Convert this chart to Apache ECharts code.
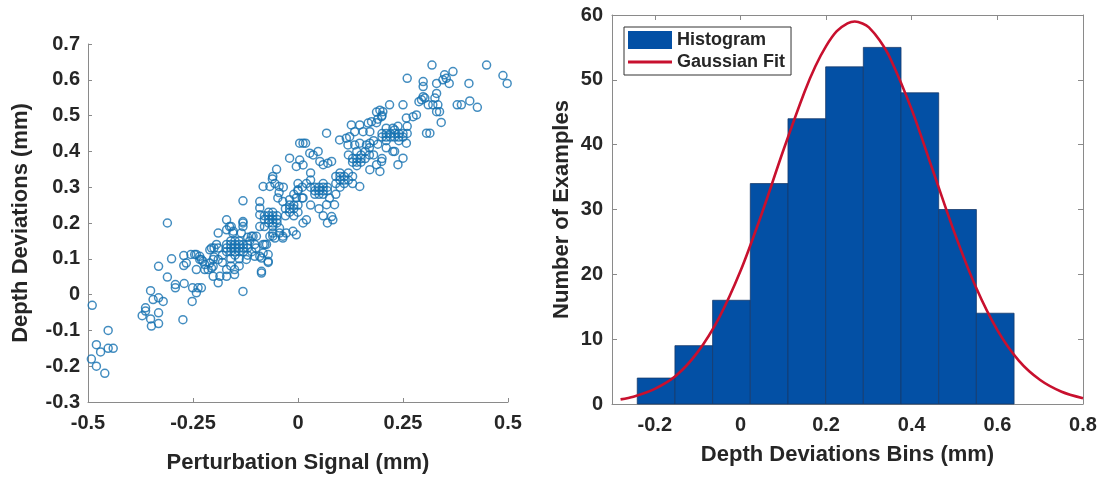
<!DOCTYPE html>
<html>
<head>
<meta charset="utf-8">
<script src="https://cdn.jsdelivr.net/npm/echarts@6/dist/echarts.min.js"></script>
<style>
html,body{margin:0;padding:0;background:#fff;}
#chart{width:1101px;height:479px;}
</style>
</head>
<body>
<div id="chart"></div>
<script>
// ---------- data ----------
const scatterPoints = [
[-0.49,-0.03],[-0.452,-0.1],[-0.48,-0.14],[-0.47,-0.16],[-0.452,-0.15],[-0.44,-0.15],[-0.492,-0.18],[-0.48,-0.2],[-0.46,-0.22],
[-0.371,-0.059],[-0.363,-0.046],[-0.363,-0.037],[-0.351,0.011],[-0.351,-0.068],[-0.349,-0.088],[-0.345,-0.014],[-0.332,-0.009],[-0.321,-0.019],[-0.332,-0.051],[-0.332,-0.081],[-0.311,0.2],[-0.274,-0.07],
[-0.332,0.079],[-0.311,0.049],[-0.301,0.1],[-0.292,0.028],[-0.292,0.019],[-0.271,0.031],[-0.272,0.081],[-0.272,0.109],[-0.255,0.112],[-0.246,0.112],[-0.266,0.088],[-0.251,0.019],[-0.242,0.005],[-0.238,0.019],[-0.23,0.019],[-0.252,-0.019],[-0.242,0.07],[-0.234,0.098],[-0.226,0.093],[-0.222,0.07],[-0.21,0.088],[-0.206,0.13],[-0.21,0.125],[-0.234,0.107],[-0.242,0.112],[-0.202,0.051],[-0.202,0.098],[-0.202,0.079],[-0.214,0.07],[-0.206,0.074],[-0.222,0.084],[-0.23,0.098],
[-0.17,0.12],[-0.17,0.13],[-0.17,0.14],[-0.16,0.12],[-0.16,0.13],[-0.16,0.14],[-0.16,0.15],[-0.15,0.12],[-0.15,0.13],[-0.15,0.14],[-0.15,0.15],[-0.14,0.12],[-0.14,0.13],[-0.14,0.14],[-0.14,0.15],[-0.13,0.13],[-0.13,0.14],[-0.12,0.13],[-0.12,0.14],[-0.13,0.12],
[-0.19,0.13],[-0.2,0.13],[-0.194,0.14],[-0.19,0.172],[-0.17,0.181],[-0.163,0.19],[-0.154,0.177],[-0.131,0.19],[-0.131,0.2],[-0.17,0.07],[-0.17,0.051],[-0.151,0.056],[-0.151,0.07],[-0.131,0.009],[-0.123,0.098],[-0.107,0.163],[-0.103,0.107],[-0.091,0.107],[-0.079,0.14],[-0.071,0.09],[-0.087,0.06],[-0.06,0.163],[-0.19,0.098],[-0.19,0.033],[-0.186,0.051],[-0.17,0.209],[-0.159,0.19],[-0.131,0.204],[-0.155,0.172],[-0.135,0.172],[-0.111,0.163],[-0.099,0.163],[-0.103,0.14],[-0.083,0.14],[-0.071,0.112],[-0.087,0.102],[-0.131,0.262],[-0.12,0.11],[-0.11,0.12],[-0.14,0.1],[-0.16,0.1],[-0.15,0.11],[-0.18,0.11],[-0.18,0.09],[-0.16,0.08],[-0.14,0.08],[-0.12,0.16],[-0.1,0.13],[-0.115,0.15],[-0.2,0.105],[-0.075,0.14],[-0.083,0.116],[-0.071,0.093],[-0.087,0.065],
[-0.091,0.26],[-0.091,0.242],[-0.091,0.223],[-0.091,0.19],[-0.083,0.302],[-0.067,0.302],[-0.045,0.302],[-0.061,0.323],[-0.051,0.35],[-0.02,0.381],[0.004,0.423],[0.012,0.423],[0.018,0.423],[-0.048,0.27],[-0.036,0.26],[-0.02,0.265],[-0.004,0.27],
[-0.08,0.19],[-0.08,0.21],[-0.08,0.22],[-0.07,0.2],[-0.07,0.21],[-0.07,0.22],[-0.07,0.23],[-0.06,0.2],[-0.06,0.21],[-0.06,0.22],[-0.06,0.23],[-0.05,0.21],[-0.05,0.22],[-0.05,0.2],
[-0.03,0.22],[-0.03,0.24],[-0.02,0.23],[-0.02,0.24],[-0.02,0.25],[-0.01,0.22],[-0.01,0.24],[0,0.23],[0,0.25],[-0.01,0.25],
[-0.06,0.172],[-0.044,0.172],[-0.028,0.172],[-0.012,0.177],[-0.004,0.167],[-0.055,0.158],[-0.036,0.158],[0.012,0.2],[0.02,0.209],[0.083,0.209],[-0.036,0.163],[-0.067,0.163],[-0.06,0.19],[-0.044,0.186],
[0.004,0.376],[0.012,0.362],[-0.004,0.358],[0.028,0.395],[0.036,0.39],[0.048,0.4],[0.052,0.372],[0.06,0.363],[0.071,0.367],[0.08,0.372],[0.068,0.451],
[0.02,0.31],[0.03,0.3],[0.03,0.32],[0.04,0.28],[0.04,0.29],[0.04,0.3],[0.05,0.28],[0.05,0.29],[0.05,0.3],[0.06,0.28],[0.06,0.29],[0.06,0.3],[0.06,0.31],[0.07,0.29],[0.07,0.3],[0.075,0.27],[0,0.31],[0.01,0.3],[0,0.29],[-0.01,0.28],[0.01,0.27],
[0.087,0.251],[0.08,0.218],[0.068,0.251],[0.05,0.24],[0.03,0.25],[0.06,0.22],[0.07,0.2],[0.012,0.27],[0,0.293],
[-0.06,0.33],[-0.055,0.31],[-0.035,0.3],[-0.045,0.285],[0.03,0.34],[0.09,0.28],[0.1,0.3],
[0.09,0.31],[0.09,0.33],[0.1,0.32],[0.1,0.33],[0.1,0.34],[0.11,0.31],[0.11,0.32],[0.11,0.33],[0.12,0.32],[0.12,0.34],[0.13,0.33],[0.13,0.31],
[0.147,0.302],[0.099,0.432],[0.115,0.437],[0.123,0.441],[0.119,0.418],[0.135,0.418],[0.147,0.423],[0.163,0.418],[0.171,0.423],
[0.13,0.37],[0.13,0.38],[0.14,0.36],[0.14,0.37],[0.14,0.38],[0.15,0.37],[0.15,0.38],[0.15,0.39],[0.16,0.38],[0.16,0.4],[0.17,0.39],[0.17,0.41],[0.12,0.39],[0.14,0.4],
[0.199,0.372],[0.187,0.363],[0.171,0.349],[0.195,0.344],[0.23,0.4],[0.238,0.363],[0.25,0.381],
[0.127,0.474],[0.147,0.474],[0.135,0.455],[0.155,0.455],[0.171,0.455],[0.175,0.483],[0.167,0.479],[0.187,0.48],[0.19,0.49],[0.2,0.5],[0.187,0.51],[0.195,0.515],[0.21,0.465],[0.226,0.465],[0.238,0.47],[0.218,0.53],[0.25,0.53],
[0.2,0.44],[0.2,0.45],[0.21,0.43],[0.21,0.44],[0.21,0.45],[0.22,0.44],[0.22,0.45],[0.23,0.44],[0.23,0.45],[0.23,0.46],[0.24,0.44],[0.24,0.45],[0.25,0.45],[0.25,0.44],[0.26,0.45],[0.26,0.47],[0.24,0.43],
[0.258,0.423],[0.226,0.4],[0.202,0.511],[0.199,0.497],[0.282,0.502],[0.274,0.497],[0.258,0.493],[0.18,0.43],[0.19,0.42],[0.21,0.41],[0.18,0.39],[0.2,0.38],
[0.319,0.641],[0.449,0.641],[0.488,0.612],[0.498,0.59],[0.369,0.623],[0.349,0.614],[0.353,0.604],[0.345,0.6],[0.36,0.59],[0.33,0.59],[0.298,0.595],[0.298,0.581],[0.26,0.604],[0.407,0.59],[0.33,0.562],[0.326,0.549],[0.298,0.553],[0.294,0.544],[0.302,0.549],[0.288,0.539],[0.31,0.53],[0.321,0.53],[0.333,0.53],[0.33,0.511],[0.337,0.511],[0.341,0.481],[0.379,0.53],[0.389,0.53],[0.409,0.541],[0.427,0.523],[0.306,0.451],[0.314,0.451]
];

const scatterXTicks = [-0.5, -0.25, 0, 0.25, 0.5];
const scatterXTickLabels = ['-0.5', '-0.25', '0', '0.25', '0.5'];

const histBinEdges = [-0.241, -0.153, -0.065, 0.023, 0.111, 0.199, 0.287, 0.375, 0.463, 0.551, 0.639];
const histCounts   = [4, 9, 16, 34, 44, 52, 55, 48, 30, 14];

const gaussX = [-0.28,-0.25,-0.2,-0.15,-0.1,-0.05,0,0.05,0.1,0.15,0.175,0.2,0.225,0.25,0.267,0.285,0.3,0.325,0.35,0.4,0.45,0.5,0.55,0.6,0.65,0.7,0.75,0.8];
const gaussY = [0.71,1.13,2.34,4.4,8.0,13.3,20.5,29.4,39.1,48.2,52.1,55.2,57.5,58.7,59.0,58.7,58.1,56.1,53.3,45.4,35.9,26.4,18.0,11.4,6.7,3.7,1.9,0.9];

const histXTicks = [-0.2, 0, 0.2, 0.4, 0.6, 0.8];
const histXTickLabels = ['-0.2', '0', '0.2', '0.4', '0.6', '0.8'];

// ---------- chart ----------
const FONT = 'Liberation Sans, Arial, Helvetica, sans-serif';
const TXT = '#262626';
const AX = '#8a8a8a';
const SCAT = '#1470b0';
const BAR = '#0350a5';
const RED = '#c8102e';

const histData = histCounts.map((c, i) => [histBinEdges[i], histBinEdges[i + 1], c]);
const gaussData = gaussX.map((x, i) => [x, gaussY[i]]);

const lbl = (size) => ({ color: TXT, fontFamily: FONT, fontWeight: 'bold', fontSize: size });

const chart = echarts.init(document.getElementById('chart'), null, { renderer: 'canvas' });
chart.setOption({
  animation: false,
  backgroundColor: '#fff',
  grid: [
    { left: 88, top: 44, width: 420, height: 359, containLabel: false },
    { left: 612, top: 15, width: 471, height: 389, containLabel: false }
  ],
  legend: {
    orient: 'vertical',
    left: 624, top: 27,
    padding: [4, 6, 4, 4],
    itemGap: 4,
    itemWidth: 44, itemHeight: 18,
    borderColor: '#333', borderWidth: 1,
    backgroundColor: '#fff',
    textStyle: lbl(18),
    data: [
      { name: 'Histogram', icon: 'rect' },
      { name: 'Gaussian Fit', icon: 'path://M0,0L0,0M0,7.6L44,7.6L44,10.4L0,10.4ZM44,18L44,18' }
    ]
  },
  xAxis: [
    {
      gridIndex: 0, type: 'value', min: -0.5, max: 0.5,
      axisLine: { show: true, onZero: false, lineStyle: { color: AX } },
      axisTick: { show: true, inside: true, length: 4, lineStyle: { color: AX }, customValues: scatterXTicks },
      axisLabel: { ...lbl(20), margin: 11, customValues: scatterXTicks,
        formatter: v => scatterXTickLabels[scatterXTicks.findIndex(t => Math.abs(t - v) < 1e-9)] },
      splitLine: { show: false },
      name: 'Perturbation Signal (mm)', nameLocation: 'middle', nameGap: 50,
      nameTextStyle: lbl(22)
    },
    {
      gridIndex: 1, type: 'value', min: -0.3, max: 0.8,
      axisLine: { show: true, onZero: false, lineStyle: { color: AX } },
      axisTick: { show: true, inside: true, length: 5, lineStyle: { color: AX }, customValues: histXTicks },
      axisLabel: { ...lbl(20), margin: 11, customValues: histXTicks,
        formatter: v => histXTickLabels[histXTicks.findIndex(t => Math.abs(t - v) < 1e-9)] },
      splitLine: { show: false },
      name: 'Depth Deviations Bins (mm)', nameLocation: 'middle', nameGap: 40,
      nameTextStyle: lbl(22)
    },
    {
      gridIndex: 1, type: 'value', min: -0.3, max: 0.8, position: 'top',
      axisLine: { show: true, onZero: false, lineStyle: { color: AX } },
      axisTick: { show: true, inside: true, length: 5, lineStyle: { color: AX }, customValues: histXTicks },
      axisLabel: { show: false },
      splitLine: { show: false }
    }
  ],
  yAxis: [
    {
      gridIndex: 0, type: 'value', min: -0.3, max: 0.7, interval: 0.1,
      axisLine: { show: true, onZero: false, lineStyle: { color: AX } },
      axisTick: { show: true, inside: true, length: 4, lineStyle: { color: AX } },
      axisLabel: { ...lbl(20), margin: 8, formatter: v => String(+v.toFixed(2)) },
      splitLine: { show: false },
      name: 'Depth Deviations (mm)', nameLocation: 'middle', nameGap: 56,
      nameTextStyle: lbl(22)
    },
    {
      gridIndex: 1, type: 'value', min: 0, max: 60, interval: 10,
      axisLine: { show: true, onZero: false, lineStyle: { color: AX } },
      axisTick: { show: true, inside: true, length: 5, lineStyle: { color: AX } },
      axisLabel: { ...lbl(20), margin: 9 },
      splitLine: { show: false },
      name: 'Number of Examples', nameLocation: 'middle', nameGap: 39,
      nameTextStyle: lbl(22)
    },
    {
      gridIndex: 1, type: 'value', min: 0, max: 60, interval: 10, position: 'right',
      axisLine: { show: true, onZero: false, lineStyle: { color: AX } },
      axisTick: { show: true, inside: true, length: 5, lineStyle: { color: AX } },
      axisLabel: { show: false },
      splitLine: { show: false }
    }
  ],
  series: [
    {
      type: 'scatter', xAxisIndex: 0, yAxisIndex: 0,
      symbol: 'circle', symbolSize: 8,
      itemStyle: { color: 'rgba(0,0,0,0)', borderColor: SCAT, borderWidth: 1.5 },
      data: scatterPoints
    },
    {
      name: 'Histogram', type: 'custom', xAxisIndex: 1, yAxisIndex: 1,
      itemStyle: { color: BAR },
      encode: { x: [0, 1], y: 2 },
      renderItem: (params, api) => {
        const p0 = api.coord([api.value(0), api.value(2)]);
        const p1 = api.coord([api.value(1), 0]);
        return {
          type: 'rect',
          shape: { x: p0[0], y: p0[1], width: p1[0] - p0[0], height: p1[1] - p0[1] },
          style: { fill: BAR, stroke: '#163a6b', lineWidth: 0.8 }
        };
      },
      data: histData
    },
    {
      name: 'Gaussian Fit', type: 'line', xAxisIndex: 1, yAxisIndex: 1,
      smooth: 0.3, symbol: 'none',
      lineStyle: { color: RED, width: 2.6 },
      itemStyle: { color: RED },
      data: gaussData
    }
  ]
});
</script>
</body>
</html>
